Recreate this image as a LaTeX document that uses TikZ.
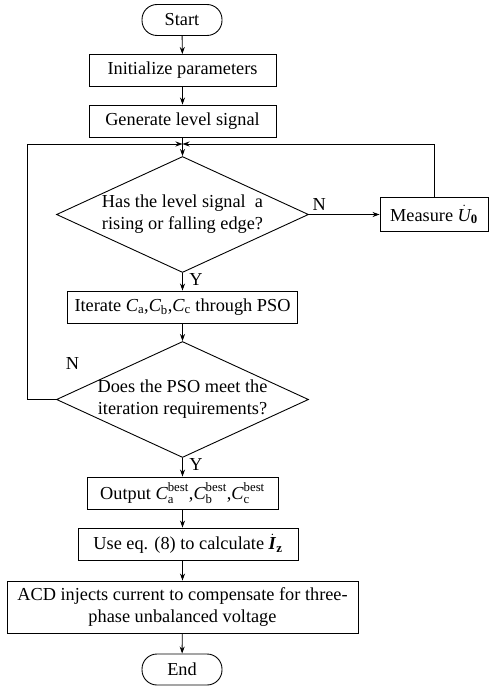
\documentclass[tikz,border=0pt]{standalone}
\usepackage{amsmath}
\usepackage{fontspec}
\setmainfont{Liberation Serif}
\usetikzlibrary{arrows.meta,shapes,positioning}

\begin{document}
\begin{tikzpicture}[x=1bp,y=1bp,line width=0.9bp,
		>={Stealth[length=7bp,width=5bp]},
		font=\fontsize{18.3bp}{22bp}\selectfont,
		proc/.style={draw,minimum height=32bp,inner sep=0pt},
		term/.style={draw,rounded corners=15bp,minimum width=80bp,minimum height=31bp,inner sep=0pt},
		decision/.style={draw,diamond,minimum width=252bp,minimum height=116bp,inner sep=0pt}]
			\useasboundingbox (0,0) rectangle (489,-687);

			\node[term] (start) at (182,-20) {Start};
			\node[proc,minimum width=187bp] (init) at (182.5,-70.5) {Initialize parameters};
			\node[proc,minimum width=187bp] (gen) at (182.5,-121) {Generate level signal};
			\coordinate (join) at (182.5,-144);
			\node[decision] (edge1) at (182.5,-214.5) {};
			\node[align=center] (edge1txt) at (edge1) {Has the level signal\ \ a\\rising or falling edge?};
			\node[proc,minimum width=108bp,minimum height=34bp] (meas) at (434,-214.5) {Measure $\dot{\textit{U}}_{\textbf{0}}$};
			\node[proc,minimum width=230bp] (iter) at (182.5,-307) {Iterate $\textit{C}_{\text{a}}$,$\textit{C}_{\text{b}}$,$\textit{C}_{\text{c}}$ through PSO};
			\node[decision] (pso) at (182.5,-399.5) {};
			\node[align=center] (psotxt) at (pso) {Does the PSO meet the\\iteration requirements?};
			\node[proc,minimum width=191bp] (out) at (182.5,-493) {Output $\textit{C}_{\text{a}}^{\text{best}}$,$\textit{C}_{\text{b}}^{\text{best}}$,$\textit{C}_{\text{c}}^{\text{best}}$};
			\node[proc,minimum width=220bp] (calc) at (188,-544) {Use eq. (8) to calculate $\dot{\textbf{\textit{I}}}_{\textbf{z}}$};
			\node[proc,minimum width=351bp,minimum height=52bp,align=center] (acd) at (182.5,-607) {ACD injects current to compensate for three-\\phase unbalanced voltage};
			\node[term] (end) at (182,-669.5) {End};

			\path [->] (start) edge (init);
			\path [->] (init) edge (gen);
			\draw (gen) -- (join);
			\draw [->] (join) -- (edge1);
			\path [->] (edge1) edge node[above right,pos=0] {N} (meas);
			\draw [->] (meas) |- (join);
			\path [->] (edge1) edge node[right=3bp,pos=0.4] {Y} (iter);
			\path [->] (iter) edge (pso);
			\draw [->] (pso.west) -- ++(-29,0) |- (join);
			\node (nlab) [above right=26bp and 6bp of pso.west] {N};
			\path [->] (pso) edge node[right=3bp,pos=0.35] {Y} (out);
			\draw [->] (out) -- (out |- calc.north);
			\draw [->] (calc.south -| out) -- (acd);
			\path [->] (acd) edge (end);
		\end{tikzpicture}
\end{document}
